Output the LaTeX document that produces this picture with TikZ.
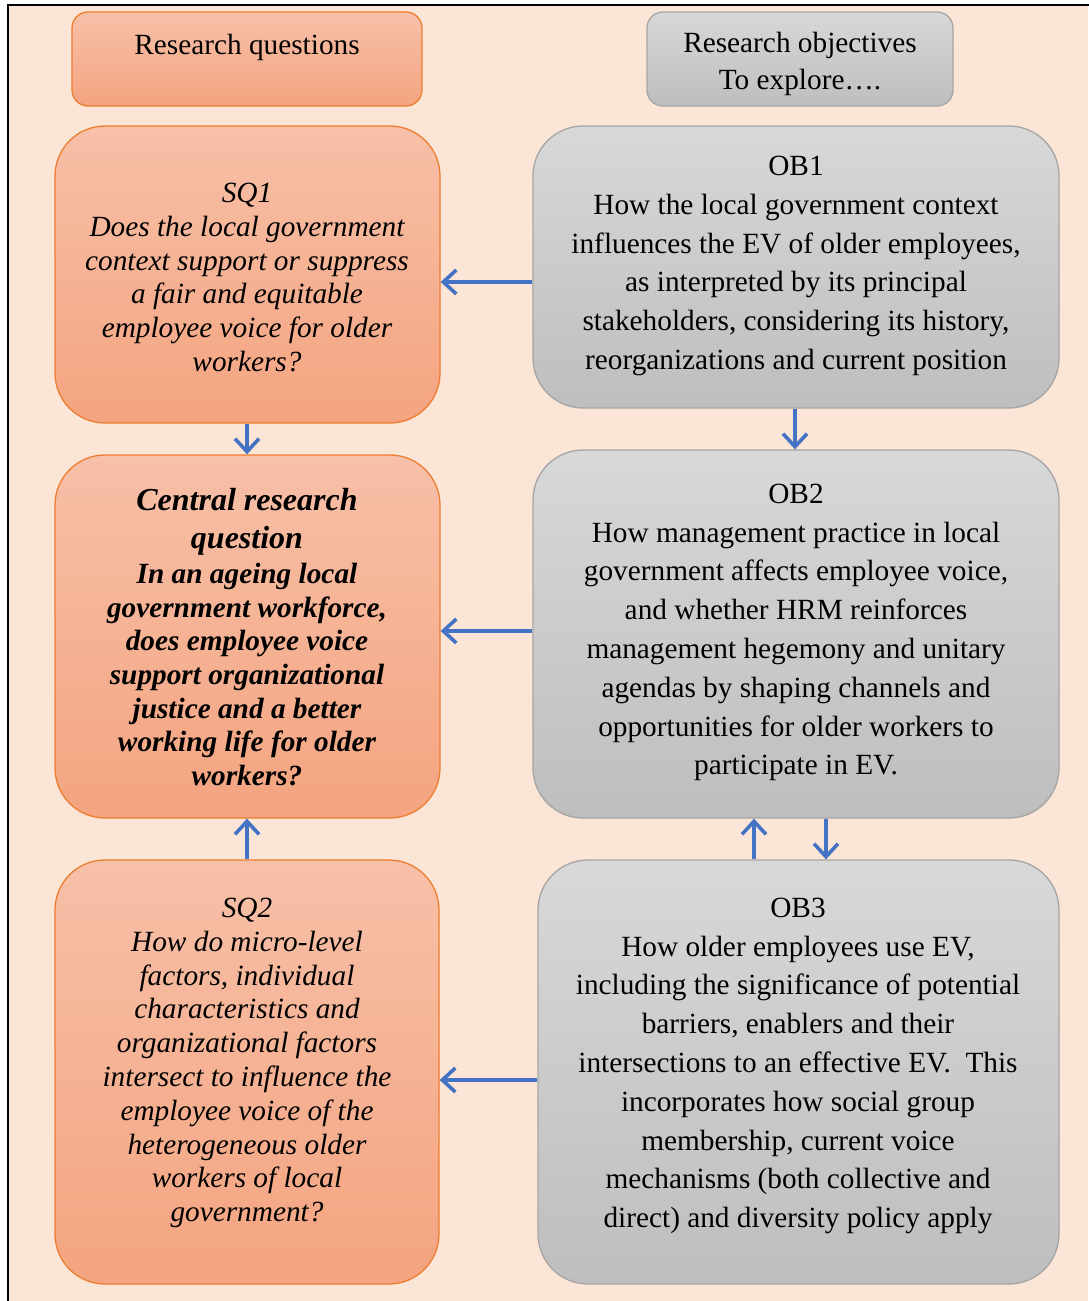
\documentclass[tikz,border=0pt]{standalone}
\usepackage{fontspec}
\setmainfont{Liberation Serif}
\usetikzlibrary{arrows.meta}
\definecolor{peach}{RGB}{251,229,214}
\definecolor{orTop}{RGB}{247,192,168}
\definecolor{orBot}{RGB}{244,164,128}
\definecolor{orLine}{RGB}{237,125,49}
\definecolor{grTop}{RGB}{216,216,216}
\definecolor{grBot}{RGB}{190,190,190}
\definecolor{grLine}{RGB}{165,165,165}
\definecolor{arrBlue}{RGB}{68,114,196}
\newcommand{\crqtitlesize}{\fontsize{32}{38}\selectfont}
\begin{document}
\begin{tikzpicture}[x=1pt,y=-1pt,
  qbox/.style={draw=orLine, line width=1.3pt, rounded corners=50pt,
    top color=orTop, bottom color=orBot, inner sep=0pt},
  obox/.style={draw=grLine, line width=1.3pt, rounded corners=50pt,
    top color=grTop, bottom color=grBot, inner sep=0pt},
  qhead/.style={qbox, rounded corners=16pt},
  ohead/.style={obox, rounded corners=16pt},
  qtext/.style={align=center, inner sep=0pt, font=\fontsize{29.3}{33.8}\selectfont\itshape},
  ctext/.style={align=center, inner sep=0pt, font=\fontsize{29.3}{33.6}\selectfont\bfseries\itshape},
  otext/.style={align=center, inner sep=0pt, font=\fontsize{29.3}{38.8}\selectfont},
  htext/.style={align=center, inner sep=0pt, font=\fontsize{29.3}{37.5}\selectfont},
  arr/.style={draw=arrBlue, line width=3.6pt, -{Straight Barb[length=13pt,width=24pt,line width=3.6pt]}}
]
\useasboundingbox (0,0) rectangle (1088,1301);
% page background and frame
\fill[white] (0,0) rectangle (1088,1301);
\fill[peach] (8,5) rectangle (1088,1301);
\draw[line width=2pt] (8,1302) -- (8,5) -- (1089,5);

% column headers
\node[qhead, minimum width=350pt, minimum height=94pt] (rqhead) at (247,59) {};
\node[htext] (rqheadt) at (247,47) {Research questions};
\node[ohead, minimum width=306pt, minimum height=94pt] (obhead) at (800,59) {};
\node[htext] (obheadt) at (800,64) {Research objectives\\To explore\dots.};

% research questions
\node[qbox, minimum width=385pt, minimum height=297pt] (sq1) at (247.5,274.5) {};
\node[qtext] (sq1t) at (247,277.5) {SQ1\\Does the local government\\context support or suppress\\a fair and equitable\\employee voice for older\\workers?};

\node[qbox, minimum width=385pt, minimum height=363pt] (crq) at (247.5,636.5) {};
\node[ctext] (crqt) at (247,637) {{\crqtitlesize Central research}\\[4.4pt]{\crqtitlesize question}\\[1.4pt]In an ageing local\\government workforce,\\does employee voice\\support organizational\\justice and a better\\working life for older\\workers?};

\node[qbox, minimum width=384pt, minimum height=424pt] (sq2) at (247,1072) {};
\node[qtext] (sq2t) at (247,1063) {SQ2\\How do micro-level\\factors, individual\\characteristics and\\organizational factors\\intersect to influence the\\employee voice of the\\heterogeneous older\\workers of local\\government?};

% research objectives
\node[obox, minimum width=526pt, minimum height=282pt] (ob1) at (796,267) {};
\node[otext] (ob1t) at (796,266) {OB1\\How the local government context\\influences the EV of older employees,\\as interpreted by its principal\\stakeholders, considering its history,\\reorganizations and current position};

\node[obox, minimum width=526pt, minimum height=368pt] (ob2) at (796,634) {};
\node[otext] (ob2t) at (796,632.5) {OB2\\How management practice in local\\government affects employee voice,\\and whether HRM reinforces\\management hegemony and unitary\\agendas by shaping channels and\\opportunities for older workers to\\participate in EV.};

\node[obox, minimum width=521pt, minimum height=424pt] (ob3) at (798.5,1072) {};
\node[otext] (ob3t) at (798,1066) {OB3\\How older employees use EV,\\including the significance of potential\\barriers, enablers and their\\intersections to an effective EV.\ \ This\\incorporates how social group\\membership, current voice\\mechanisms (both collective and\\direct) and diversity policy apply};

% connectors
\draw[arr] (ob1.west |- 0,282) -- (sq1.east |- 0,282);
\draw[arr] (sq1.south -| 247,0) -- (crq.north -| 247,0);
\draw[arr] (ob1.south -| 795,0) -- (ob2.north -| 795,0);
\draw[arr] (ob2.west |- 0,631) -- (crq.east |- 0,631);
\draw[arr] (ob3.north -| 754,0) -- (ob2.south -| 754,0);
\draw[arr] (ob2.south -| 826,0) -- (ob3.north -| 826,0);
\draw[arr] (sq2.north -| 247,0) -- (crq.south -| 247,0);
\draw[arr] (ob3.west |- 0,1080) -- (sq2.east |- 0,1080);
\end{tikzpicture}
\end{document}
